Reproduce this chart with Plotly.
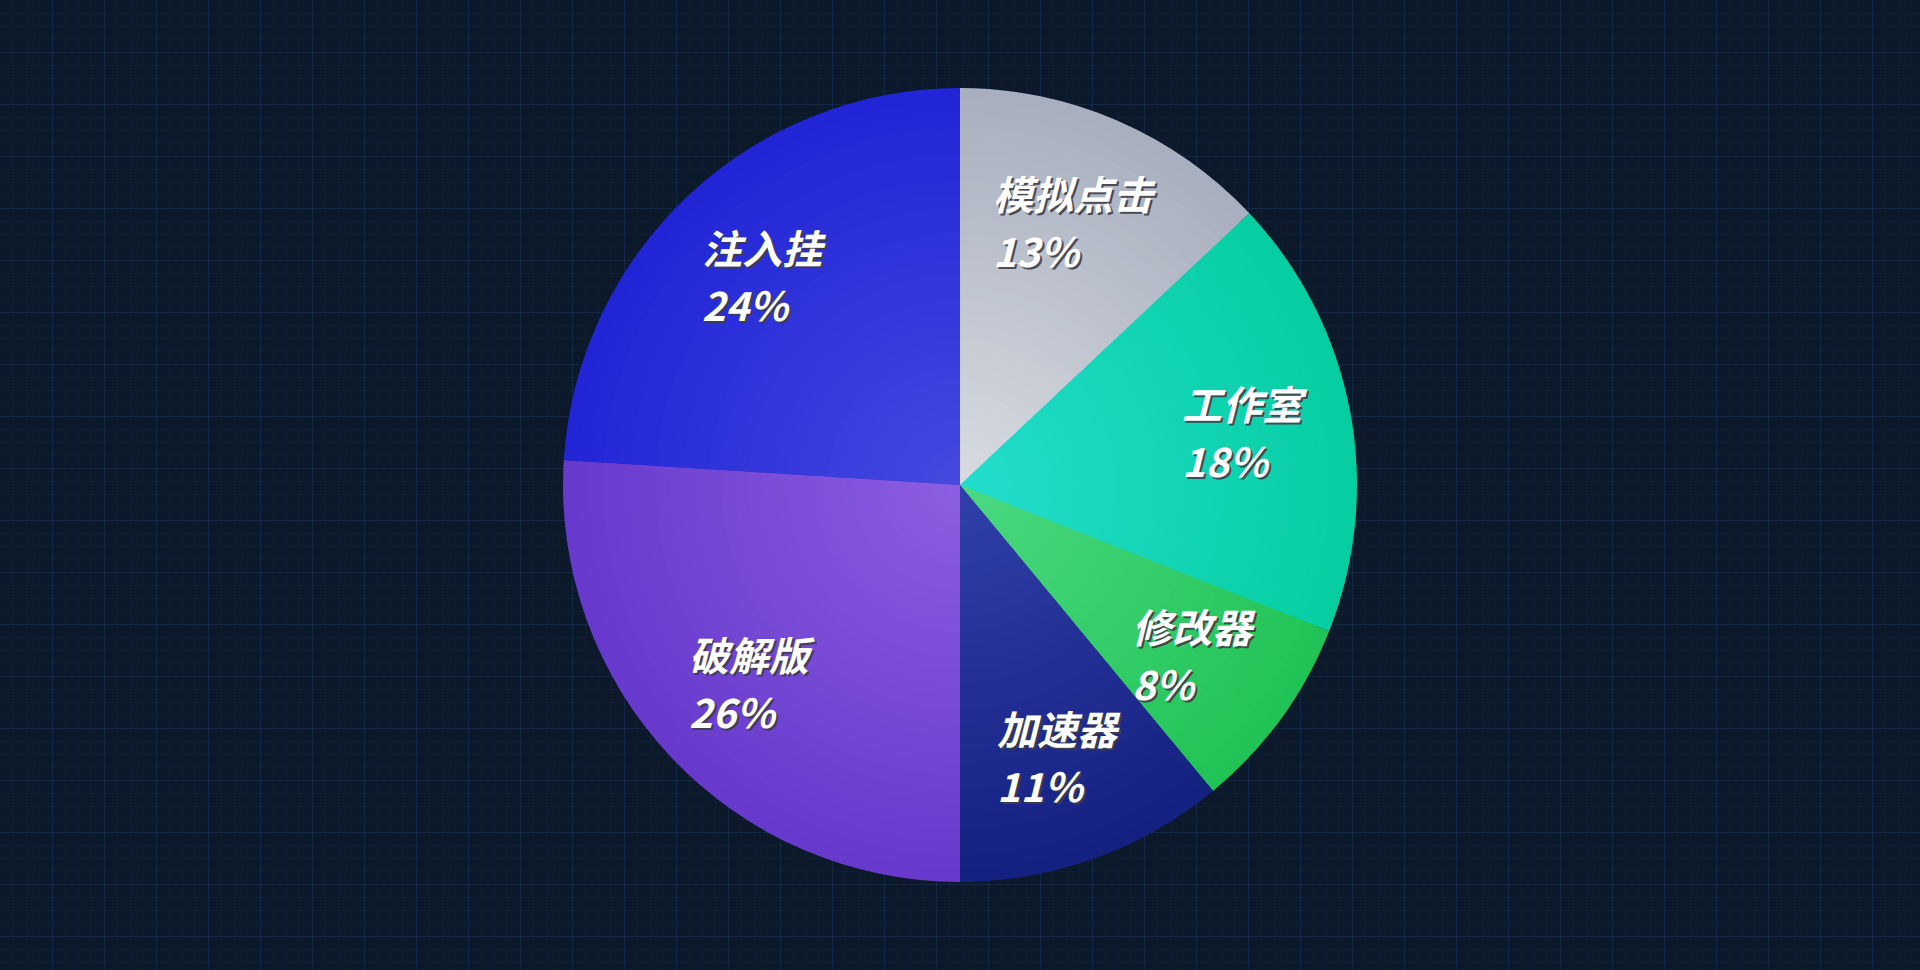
import numpy as np
import plotly.graph_objects as go

# data
names = ["模拟点击", "工作室", "修改器", "加速器", "破解版", "注入挂"]
values = [13, 18, 8, 11, 26, 24]

# gradient stops per slice: colour near centre -> colour at rim
inner_rgb = [(217, 220, 226), (36, 221, 206), (76, 218, 130), (50, 64, 172), (142, 95, 225), (70, 74, 224)]
outer_rgb = [(168, 175, 190), (6, 206, 162), (33, 195, 86), (21, 33, 128), (103, 58, 205), (33, 37, 214)]

W, H = 1920, 970
cx, cy, R = 960, 485, 397
n_rings = 30

fig = go.Figure()

# invisible trace so the cartesian grid gets drawn
fig.add_trace(go.Scatter(x=[], y=[], showlegend=False, hoverinfo="skip"))


def mix(a, b, t):
    return "rgb({},{},{})".format(*[round(a[k] + (b[k] - a[k]) * t) for k in range(3)])


# stacked pies, largest first, to fake the radial gradient
for i in range(n_rings):
    r = R * (1 - i / n_rings)
    t = 1 - i / n_rings
    cols = [mix(inner_rgb[k], outer_rgb[k], t) for k in range(len(names))]
    fig.add_trace(go.Pie(
        labels=names, values=values,
        sort=False, direction="clockwise", rotation=0,
        marker=dict(colors=cols, line=dict(width=0)),
        textinfo="none",
        hoverinfo="label+percent" if i == 0 else "skip",
        showlegend=False,
        domain=dict(x=[(cx - r) / W, (cx + r) / W], y=[(cy - r) / H, (cy + r) / H]),
    ))

# labels at 0.725 R along each slice's mid angle
fs = 40
total = sum(values)
cum = np.cumsum([0] + values[:-1])
for name, v, c in zip(names, values, cum):
    ang = 2 * np.pi * (c + v / 2) / total
    bx = cx + 0.725 * R * np.sin(ang)
    by = cy - 0.725 * R * np.cos(ang)
    left = bx - len(name) * fs / 2 - 3
    for txt, dy in [(name, -28), (f"{round(v / total * 100)}%", 29)]:
        fig.add_annotation(
            x=left, y=by + dy, xref="x", yref="y",
            text=txt, showarrow=False, xanchor="left", yanchor="middle",
            font=dict(family="Noto Sans CJK SC", size=fs, color="#ffffff",
                      weight="bold", style="italic",
                      shadow="2px 2px 0px rgba(60,60,70,0.9)"),
        )

grid = dict(showgrid=True, dtick=52, tick0=0,
            gridcolor="rgba(38,72,128,0.32)", gridwidth=1,
            minor=dict(dtick=13, showgrid=True, gridcolor="rgba(38,72,128,0.10)"),
            showticklabels=False, zeroline=False, showline=False, fixedrange=True)
fig.update_xaxes(range=[0, W], **grid)
fig.update_yaxes(range=[H, 0], **grid)

fig.update_layout(
    width=W, height=H,
    margin=dict(l=0, r=0, t=0, b=0),
    paper_bgcolor="#0b192b",
    plot_bgcolor="#0b192b",
    showlegend=False,
)

fig.write_html("out.html", config={"displayModeBar": False},
               post_script="document.body.style.margin='0';")
